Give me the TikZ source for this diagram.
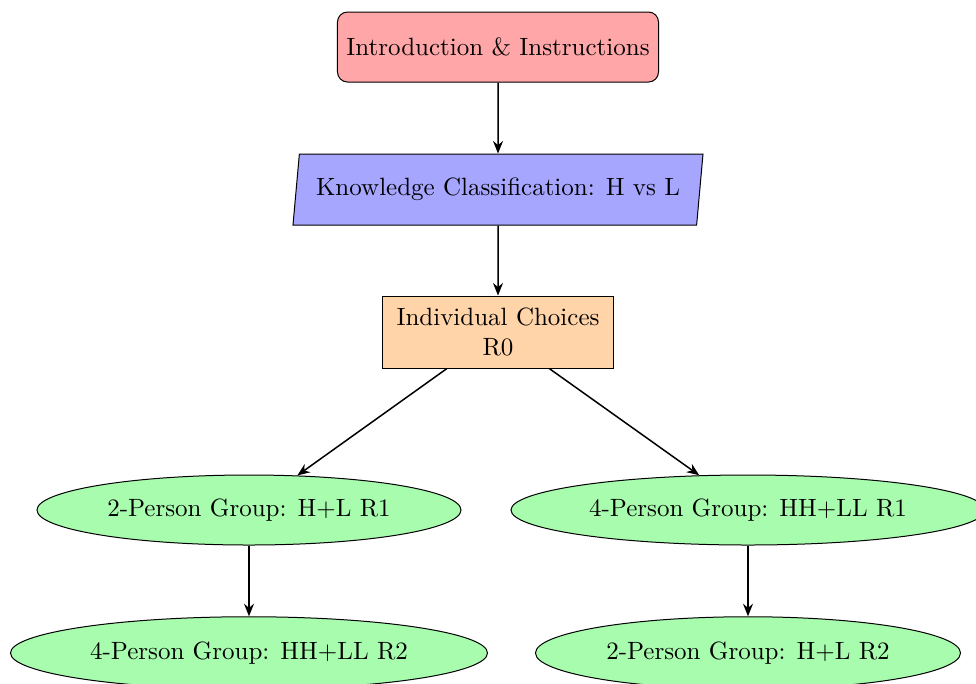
\documentclass[tikz,border=0pt]{standalone}
\usetikzlibrary{shapes.geometric,arrows.meta}
\definecolor{boxred}{HTML}{FFA6A8}
\definecolor{boxblue}{HTML}{A6A6FF}
\definecolor{boxorange}{HTML}{FFD4A8}
\definecolor{boxgreen}{HTML}{A8FCAE}
\tikzset{
  startbox/.style={draw, rounded corners=4pt, fill=boxred, minimum width=128.4pt, minimum height=28pt, inner sep=3pt},
  parabox/.style={draw, trapezium, trapezium left angle=79, trapezium right angle=101, trapezium stretches body, fill=boxblue, minimum width=164pt, minimum height=28.4pt, inner sep=2pt},
  choicebox/.style={draw, fill=boxorange, minimum width=92.4pt, minimum height=28.8pt, align=center, inner sep=3pt},
  groupnode/.style={draw, ellipse, fill=boxgreen, minimum height=28pt, inner sep=1pt},
  flow/.style={-{Stealth[length=5pt,width=4pt]}, semithick}
}
\begin{document}
\begin{tikzpicture}[x=0.4pt, y=-0.4pt]
\useasboundingbox (0,0) rectangle (976,683);
\clip (0,0) rectangle (976,683);
\node[startbox] (intro) at (498,47) {Introduction \& Instructions};
\node[parabox] (know) at (498,189.5) {Knowledge Classification: H vs L};
\node[choicebox] (ind) at (498,332) {Individual Choices\\R0};
\node[groupnode, minimum width=169.6pt] (g2a) at (249,510) {2-Person Group: H+L R1};
\node[groupnode, minimum width=189.6pt] (g4a) at (748,510) {4-Person Group: HH+LL R1};
\node[groupnode, minimum width=190.8pt, minimum height=29pt] (g4b) at (249,653) {4-Person Group: HH+LL R2};
\node[groupnode, minimum width=170pt, minimum height=29pt] (g2b) at (748,653) {2-Person Group: H+L R2};
\draw[flow] (intro) -- (know);
\draw[flow] (know) -- (ind);
\draw[flow] (ind) -- (g2a);
\draw[flow] (ind) -- (g4a);
\draw[flow] (g2a) -- (g4b);
\draw[flow] (g4a) -- (g2b);
\end{tikzpicture}
\end{document}
